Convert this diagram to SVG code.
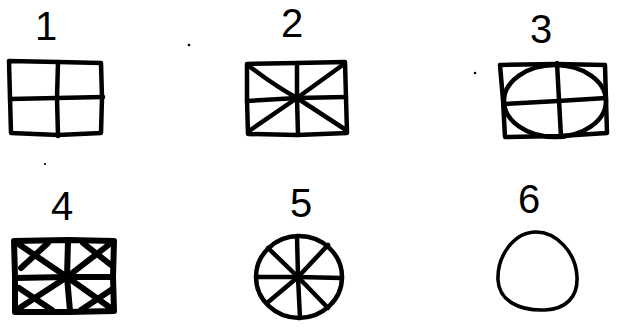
<svg xmlns="http://www.w3.org/2000/svg" width="617" height="329" viewBox="0 0 617 329">
<style>
.ln{fill:none;stroke:#000;stroke-linecap:round;stroke-linejoin:round}
.w4{stroke-width:4.5}
.w6{stroke-width:6}
.w3{stroke-width:3.6}
.lbl{font-family:"Liberation Sans",Arial,sans-serif;font-size:40px;fill:#000;text-anchor:middle}
</style>
<rect width="617" height="329" fill="#fff"/>
<g id="specks" fill="#000">
<circle cx="189" cy="45" r="1.3"/>
<circle cx="475" cy="73" r="1.3"/>
<circle cx="45" cy="164" r="1.1"/>
</g>
<g id="fig1">
<text class="lbl" x="46" y="40">1</text>
<path class="ln w4" d="M9,61 L58,62 L101,63 L102,98 L101,133 L58,135 L11,133 L10,98 Z"/>
<path class="ln w4" d="M58,62 L57,98 L58,136"/>
<path class="ln w4" d="M10,99 L57,98 L103,97"/>
</g>
<g id="fig2">
<text class="lbl" x="292" y="37">2</text>
<path class="ln w4" d="M247,64 L297,63 L345,62 L346,98 L347,133 L297,135 L248,134 L247,100 Z"/>
<path class="ln w4" d="M297,63 L297,98 L298,135"/>
<path class="ln w4" d="M247,101 L297,98 L346,97"/>
<path class="ln w4" d="M249,66 Q275,86 297,98 L346,130"/>
<path class="ln w4" d="M344,64 L297,98 L249,131"/>
</g>
<g id="fig3">
<text class="lbl" x="541" y="43">3</text>
<path class="ln w4" d="M500,65 L556,64 L605,65 L606,100 L607,133 L560,136 L505,137 L503,100 Z"/>
<ellipse class="ln w4" cx="555" cy="101" rx="51" ry="36"/>
<path class="ln w4" d="M557,63 L559,100 L561,137"/>
<path class="ln w4" d="M504,104 L558,101 L606,98"/>
</g>
<g id="fig4">
<text class="lbl" x="62" y="220">4</text>
<path class="ln w6" d="M14,241 L68,240 L114,241 L113,277 L114,311 L68,312 L15,312 L15,277 Z"/>
<path class="ln w6" d="M68,241 L67,277 L70,311"/>
<path class="ln w6" d="M15,278 L67,277 L113,277"/>
<path class="ln w6" d="M17,243 L67,277 L112,309"/>
<path class="ln w6" d="M111,243 L67,277 L18,309"/>
<path class="ln w6" d="M21,268 L48,243"/>
<path class="ln w6" d="M83,243 L111,265"/>
<path class="ln w6" d="M19,288 L52,310"/>
<path class="ln w6" d="M81,310 L111,290"/>
</g>
<g id="fig5">
<text class="lbl" x="301" y="217">5</text>
<ellipse class="ln w4" cx="299" cy="277" rx="43" ry="41"/>
<path class="ln w4" d="M297,236 L298,277 L300,318"/>
<path class="ln w4" d="M256,277 L298,277 L342,278"/>
<path class="ln w4" d="M268,248 L298,277 L328,308"/>
<path class="ln w4" d="M328,245 L298,277 L267,303"/>
</g>
<g id="fig6">
<text class="lbl" x="529" y="213">6</text>
<path class="ln w3" d="M536,232 C556,232 576,252 577,277 C578,297 566,309 545,310 C518,311 499,300 498,280 C497,256 514,232 536,232 Z"/>
</g>
</svg>
